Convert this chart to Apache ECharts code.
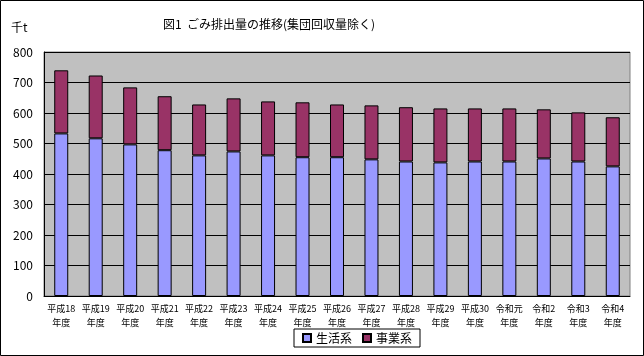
<!DOCTYPE html>
<html><head><meta charset="utf-8">
<script src="https://cdn.jsdelivr.net/npm/echarts@6/dist/echarts.min.js"></script>
<style>html,body{margin:0;padding:0;background:#fff;}#c{width:644px;height:356px;}</style>
</head><body><div id="c"></div>
<script>
const categories = ['平成18\n年度','平成19\n年度','平成20\n年度','平成21\n年度','平成22\n年度','平成23\n年度','平成24\n年度','平成25\n年度','平成26\n年度','平成27\n年度','平成28\n年度','平成29\n年度','平成30\n年度','令和元\n年度','令和2\n年度','令和3\n年度','令和4\n年度'];
const household = [533,517,497,478,461,474,461,455,455,448,441,438,441,441,451,441,425];
const business = [207,206,187,177,167,174,177,180,173,177,178,177,174,174,161,161,161];
const yTicks = {min:0, max:800, interval:100};
const FONT = '"Noto Sans CJK JP", sans-serif';
const chart = echarts.init(document.getElementById('c'));
chart.setOption({
  animation:false,
  backgroundColor:'#fff',
  textStyle:{fontFamily:FONT},
  graphic:[
    {type:'rect', shape:{x:0.5,y:0.5,width:643,height:355}, style:{fill:'none',stroke:'#000',lineWidth:1}},
    {type:'text', left:163, top:18, style:{text:'図1  ごみ排出量の推移(集団回収量除く)', font:'12px "Noto Sans CJK JP"', fill:'#000'}},
    {type:'text', left:11, top:21, style:{text:'千t', font:'12px "Noto Sans CJK JP"', fill:'#000'}}
  ],
  grid:{left:44,right:14,top:52,bottom:60,show:true,backgroundColor:'#c0c0c0',borderColor:'#808080',borderWidth:1},
  legend:{
    left:294, top:329, data:['生活系','事業系'],
    icon:'rect', itemWidth:8, itemHeight:8, itemGap:10,
    borderColor:'#000', borderWidth:1, padding:[3,8,3,8],
    textStyle:{fontSize:12,color:'#000',fontFamily:FONT}
  },
  xAxis:{
    type:'category', data:categories,
    axisLine:{lineStyle:{color:'#000',width:1}},
    axisTick:{inside:true,length:3,lineStyle:{color:'#000'}},
    axisLabel:{interval:0,fontSize:9,lineHeight:14,color:'#000',margin:6,fontFamily:FONT}
  },
  yAxis:{
    type:'value', min:yTicks.min, max:yTicks.max, interval:yTicks.interval,
    axisLine:{show:true,lineStyle:{color:'#000',width:1}},
    axisTick:{show:false},
    splitLine:{lineStyle:{color:'#000',width:1}},
    axisLabel:{fontSize:12,color:'#000',margin:11,fontFamily:FONT}
  },
  series:[
    {name:'生活系',type:'bar',stack:'t',data:household,barWidth:14,itemStyle:{color:'#9999ff',borderColor:'#000',borderWidth:1}},
    {name:'事業系',type:'bar',stack:'t',data:business,barWidth:14,itemStyle:{color:'#993366',borderColor:'#000',borderWidth:1}}
  ]
});
</script></body></html>
